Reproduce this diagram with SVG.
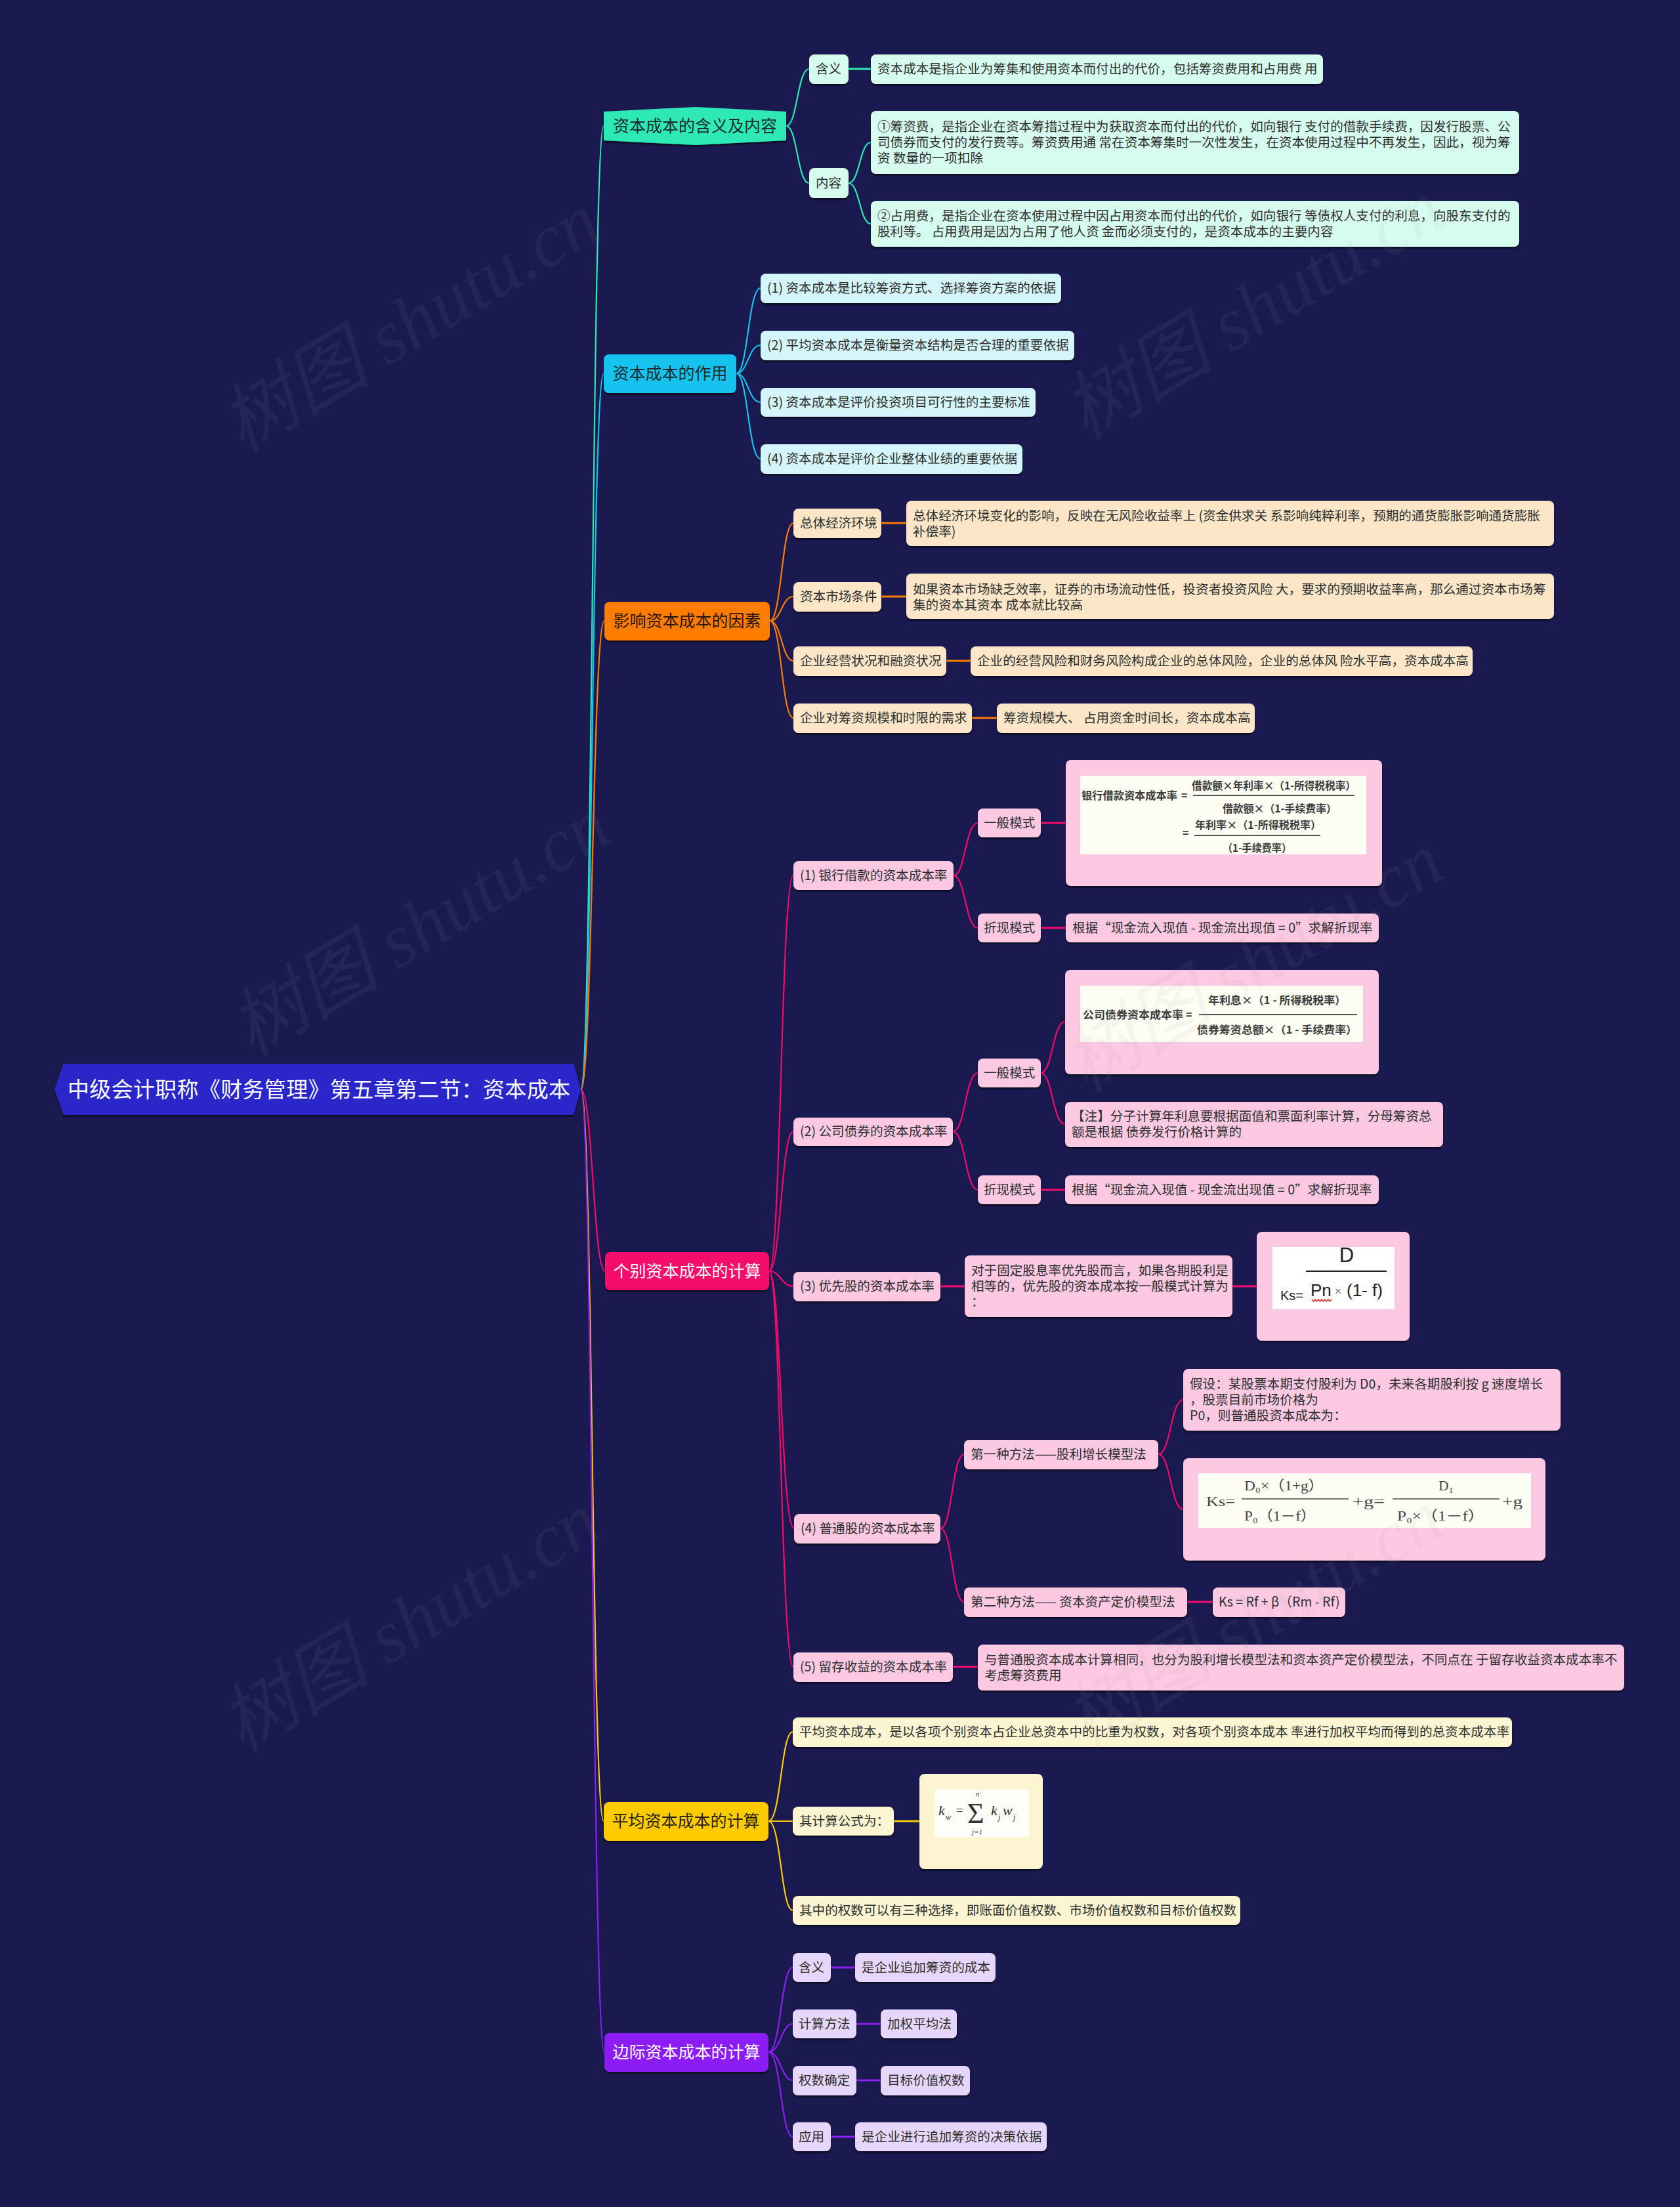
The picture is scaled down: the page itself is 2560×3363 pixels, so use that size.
<svg xmlns="http://www.w3.org/2000/svg" width="2560" height="3363" viewBox="0 0 2560 3363">
<defs>
<filter id="sh" x="-10%" y="-20%" width="120%" height="160%"><feDropShadow dx="0" dy="2.5" stdDeviation="1.2" flood-color="#000" flood-opacity="0.6"/></filter>
<clipPath id="cpD"><rect x="1939" y="1900" width="186" height="95"/></clipPath>
</defs>
<style>
.n{filter:url(#sh)}
.t{font-family:"Noto Sans CJK SC","Noto Sans",sans-serif;font-size:19.6px;fill:#2e2e2e}
.bt{font-family:"Noto Sans CJK SC","Noto Sans",sans-serif;font-size:25px;fill:#1d2b2b}
.wt{fill:#ffffff}
.rt{font-family:"Noto Sans CJK SC","Noto Sans",sans-serif;font-size:33px;fill:#ffffff}
.c1{fill:#d6fcf0}.c2{fill:#d5f5fc}.c3{fill:#fde6c8}.c4{fill:#fcc8e2}.c5{fill:#fdf5d1}.c6{fill:#e7d6fb}
.ln{fill:none;stroke-width:2.2}
.hz{fill:none;stroke-width:3.2}
.s1{stroke:#2ee8b6}.s2{stroke:#17c2ee}.s3{stroke:#fe7b01}.s4{stroke:#f50b6c}.s5{stroke:#fecb05}.s6{stroke:#8c1ff4}
.img{fill:#fdfdf4}
.ft{font-family:"Noto Sans CJK SC","Noto Sans",sans-serif;font-size:16px;font-weight:bold;fill:#3c3c3c}
.fl{stroke:#555;stroke-width:2}
.sf{font-family:"Liberation Serif","DejaVu Serif","Noto Sans CJK SC",serif;font-size:21px;fill:#444}
.wm{font-family:"Liberation Serif","Noto Sans CJK SC",serif;font-style:italic;font-size:115px;fill:#a0a0a0;opacity:0.075}
</style>
<rect x="0" y="0" width="2560" height="3363" fill="#1a1a50"/>

<g id="connectors">
<path class="ln s1" d="M885 1660 C903 1660 902 192 920 192"/>
<path class="ln s2" d="M885 1660 C903 1660 902 569 920 569"/>
<path class="ln s3" d="M885 1660 C903 1660 903 946 921 946"/>
<path class="ln s4" d="M885 1660 C903 1660 904 1937 922 1937"/>
<path class="ln s5" d="M885 1660 C903 1660 902 2775 920 2775"/>
<path class="ln s6" d="M885 1660 C903 1660 903 3127 921 3127"/>

<path class="ln s1" d="M1198 192 C1215 192 1215 105 1233 105"/>
<path class="ln s1" d="M1198 192 C1215 192 1215 279 1233 279"/>
<path class="hz s1" d="M1293 105 L1327 105"/>
<path class="ln s1" d="M1293 279 C1310 279 1310 217 1327 217"/>
<path class="ln s1" d="M1293 279 C1310 279 1310 341 1327 341"/>

<path class="ln s2" d="M1122 569 C1140 569 1140 439 1159 439"/>
<path class="ln s2" d="M1122 569 C1140 569 1140 526 1159 526"/>
<path class="ln s2" d="M1122 569 C1140 569 1140 613 1159 613"/>
<path class="ln s2" d="M1122 569 C1140 569 1140 699 1159 699"/>

<path class="ln s3" d="M1173 946 C1191 946 1191 797 1209 797"/>
<path class="ln s3" d="M1173 946 C1191 946 1191 909 1209 909"/>
<path class="ln s3" d="M1173 946 C1191 946 1191 1007 1209 1007"/>
<path class="ln s3" d="M1173 946 C1191 946 1191 1094 1209 1094"/>
<path class="hz s3" d="M1343 797 L1381 797"/>
<path class="hz s3" d="M1343 909 L1381 909"/>
<path class="hz s3" d="M1442 1007 L1479 1007"/>
<path class="hz s3" d="M1481 1094 L1519 1094"/>

<path class="ln s4" d="M1172 1937 C1190 1937 1190 1334 1209 1334"/>
<path class="ln s4" d="M1172 1937 C1190 1937 1190 1724 1209 1724"/>
<path class="ln s4" d="M1172 1937 C1190 1937 1190 1960 1209 1960"/>
<path class="ln s4" d="M1172 1937 C1190 1937 1190 2329 1210 2329"/>
<path class="ln s4" d="M1172 1937 C1190 1937 1190 2540 1209 2540"/>
<path class="ln s4" d="M1453 1334 C1471 1334 1471 1254 1490 1254"/>
<path class="ln s4" d="M1453 1334 C1471 1334 1471 1414 1490 1414"/>
<path class="hz s4" d="M1586 1254 L1624 1254"/>
<path class="hz s4" d="M1586 1414 L1624 1414"/>
<path class="ln s4" d="M1452 1724 C1471 1724 1471 1635 1490 1635"/>
<path class="ln s4" d="M1452 1724 C1471 1724 1471 1813 1490 1813"/>
<path class="ln s4" d="M1586 1635 C1604 1635 1604 1557 1623 1557"/>
<path class="ln s4" d="M1586 1635 C1604 1635 1604 1713 1623 1713"/>
<path class="hz s4" d="M1586 1813 L1623 1813"/>
<path class="hz s4" d="M1433 1960 L1470 1960"/>
<path class="hz s4" d="M1878 1960 L1915 1960"/>
<path class="ln s4" d="M1433 2329 C1451 2329 1451 2216 1469 2216"/>
<path class="ln s4" d="M1433 2329 C1451 2329 1451 2441 1469 2441"/>
<path class="ln s4" d="M1765 2216 C1784 2216 1784 2133 1803 2133"/>
<path class="ln s4" d="M1765 2216 C1784 2216 1784 2300 1803 2300"/>
<path class="hz s4" d="M1809 2441 L1848 2441"/>
<path class="hz s4" d="M1452 2540 L1490 2540"/>

<path class="ln s5" d="M1171 2775 C1190 2775 1190 2639 1208 2639"/>
<path class="ln s5" d="M1171 2775 L1208 2775"/>
<path class="ln s5" d="M1171 2775 C1190 2775 1190 2911 1208 2911"/>
<path class="hz s5" d="M1362 2775 L1401 2775"/>

<path class="ln s6" d="M1171 3127 C1190 3127 1190 2998 1208 2998"/>
<path class="ln s6" d="M1171 3127 C1190 3127 1190 3084 1208 3084"/>
<path class="ln s6" d="M1171 3127 C1190 3127 1190 3170 1208 3170"/>
<path class="ln s6" d="M1171 3127 C1190 3127 1190 3256 1208 3256"/>
<path class="hz s6" d="M1266 2998 L1303 2998"/>
<path class="hz s6" d="M1305 3084 L1342 3084"/>
<path class="hz s6" d="M1305 3170 L1342 3170"/>
<path class="hz s6" d="M1266 3256 L1303 3256"/>
</g>

<g id="root"><polygon class="n" points="83,1660 97,1621 874,1621 885,1660 874,1699 97,1699" fill="#2b28c9"/><text class="rt" x="103" y="1672" textLength="766" lengthAdjust="spacing">中级会计职称《财务管理》第五章第二节：资本成本</text></g>

<g id="b1"><polygon class="n" points="920,170 1060,163 1198,170 1198,214 1060,221 920,214" fill="#2ee8b6"/><text class="bt" x="1059" y="201" text-anchor="middle">资本成本的含义及内容</text></g>
<g id="b1-hanyi"><rect class="n c1" x="1233" y="83" width="60" height="45" rx="8"/><text class="t" x="1243" y="112">含义</text></g>
<g id="b1-hanyi-leaf"><rect class="n c1" x="1327" y="83" width="689" height="45" rx="8"/><text class="t" x="1337" y="112">资本成本是指企业为筹集和使用资本而付出的代价，包括筹资费用和占用费 用</text></g>
<g id="b1-neirong"><rect class="n c1" x="1233" y="256" width="60" height="46" rx="8"/><text class="t" x="1243" y="286">内容</text></g>
<g id="b1-leaf1"><rect class="n c1" x="1327" y="169" width="988" height="96" rx="8"/><text class="t" x="1337" y="200">①筹资费，是指企业在资本筹措过程中为获取资本而付出的代价，如向银行 支付的借款手续费，因发行股票、公</text><text class="t" x="1337" y="224">司债券而支付的发行费等。筹资费用通 常在资本筹集时一次性发生，在资本使用过程中不再发生，因此，视为筹</text><text class="t" x="1337" y="248">资 数量的一项扣除</text></g>
<g id="b1-leaf2"><rect class="n c1" x="1327" y="306" width="988" height="70" rx="8"/><text class="t" x="1337" y="336">②占用费，是指企业在资本使用过程中因占用资本而付出的代价，如向银行 等债权人支付的利息，向股东支付的</text><text class="t" x="1337" y="360">股利等。 占用费用是因为占用了他人资 金而必须支付的，是资本成本的主要内容</text></g>

<g id="b2"><rect class="n" x="920" y="540" width="202" height="59" rx="8" fill="#17c2ee"/><text class="bt" x="1021" y="578" text-anchor="middle">资本成本的作用</text></g>
<g id="b2-1"><rect class="n c2" x="1159" y="417" width="458" height="45" rx="8"/><text class="t" x="1169" y="446">(1) 资本成本是比较筹资方式、选择筹资方案的依据</text></g>
<g id="b2-2"><rect class="n c2" x="1159" y="504" width="478" height="45" rx="8"/><text class="t" x="1169" y="533">(2) 平均资本成本是衡量资本结构是否合理的重要依据</text></g>
<g id="b2-3"><rect class="n c2" x="1159" y="591" width="419" height="44" rx="8"/><text class="t" x="1169" y="620">(3) 资本成本是评价投资项目可行性的主要标准</text></g>
<g id="b2-4"><rect class="n c2" x="1159" y="677" width="399" height="45" rx="8"/><text class="t" x="1169" y="706">(4) 资本成本是评价企业整体业绩的重要依据</text></g>

<g id="b3"><rect class="n" x="921" y="917" width="252" height="59" rx="8" fill="#fe7b01"/><text class="bt" x="1047" y="955" text-anchor="middle" style="fill:#2a1400">影响资本成本的因素</text></g>
<g id="b3-1"><rect class="n c3" x="1209" y="775" width="134" height="45" rx="8"/><text class="t" x="1219" y="804">总体经济环境</text></g>
<g id="b3-1-leaf"><rect class="n c3" x="1381" y="763" width="987" height="69" rx="8"/><text class="t" x="1391" y="793">总体经济环境变化的影响，反映在无风险收益率上 (资金供求关 系影响纯粹利率，预期的通货膨胀影响通货膨胀</text><text class="t" x="1391" y="817">补偿率)</text></g>
<g id="b3-2"><rect class="n c3" x="1209" y="887" width="134" height="45" rx="8"/><text class="t" x="1219" y="916">资本市场条件</text></g>
<g id="b3-2-leaf"><rect class="n c3" x="1381" y="874" width="987" height="69" rx="8"/><text class="t" x="1391" y="905">如果资本市场缺乏效率，证券的市场流动性低，投资者投资风险 大，要求的预期收益率高，那么通过资本市场筹</text><text class="t" x="1391" y="929">集的资本其资本 成本就比较高</text></g>
<g id="b3-3"><rect class="n c3" x="1209" y="985" width="233" height="45" rx="8"/><text class="t" x="1219" y="1014">企业经营状况和融资状况</text></g>
<g id="b3-3-leaf"><rect class="n c3" x="1479" y="985" width="765" height="45" rx="8"/><text class="t" x="1489" y="1014">企业的经营风险和财务风险构成企业的总体风险，企业的总体风 险水平高，资本成本高</text></g>
<g id="b3-4"><rect class="n c3" x="1209" y="1072" width="272" height="45" rx="8"/><text class="t" x="1219" y="1101">企业对筹资规模和时限的需求</text></g>
<g id="b3-4-leaf"><rect class="n c3" x="1519" y="1072" width="393" height="45" rx="8"/><text class="t" x="1529" y="1101">筹资规模大、 占用资金时间长，资本成本高</text></g>

<g id="b4"><rect class="n" x="922" y="1908" width="250" height="58" rx="8" fill="#f50b6c"/><text class="bt wt" x="1047" y="1946" text-anchor="middle">个别资本成本的计算</text></g>
<g id="b4-1"><rect class="n c4" x="1209" y="1312" width="244" height="44" rx="8"/><text class="t" x="1219" y="1341">(1) 银行借款的资本成本率</text></g>
<g id="b4-1-a"><rect class="n c4" x="1490" y="1232" width="96" height="44" rx="8"/><text class="t" x="1499" y="1261">一般模式</text></g>
<g id="b4-1-a-f"><rect class="n c4" x="1624" y="1158" width="482" height="192" rx="8"/><rect class="img" x="1646" y="1182" width="436" height="120"/>
<text class="ft" x="1648" y="1218" textLength="146" lengthAdjust="spacingAndGlyphs">银行借款资本成本率</text><text class="ft" x="1800" y="1218">=</text>
<text class="ft" x="1816" y="1203" textLength="250" lengthAdjust="spacingAndGlyphs">借款额×年利率×（1-所得税税率）</text>
<line class="fl" x1="1818" y1="1212" x2="2064" y2="1212"/>
<text class="ft" x="1863" y="1238" textLength="174" lengthAdjust="spacingAndGlyphs">借款额×（1-手续费率）</text>
<text class="ft" x="1802" y="1275">=</text>
<text class="ft" x="1821" y="1263" textLength="192" lengthAdjust="spacingAndGlyphs">年利率×（1-所得税税率）</text>
<line class="fl" x1="1820" y1="1273" x2="2012" y2="1273"/>
<text class="ft" x="1863" y="1298" textLength="105" lengthAdjust="spacingAndGlyphs">（1-手续费率）</text></g>
<g id="b4-1-b"><rect class="n c4" x="1490" y="1392" width="96" height="44" rx="8"/><text class="t" x="1499" y="1421">折现模式</text></g>
<g id="b4-1-b-leaf"><rect class="n c4" x="1624" y="1392" width="477" height="44" rx="8"/><text class="t" x="1634" y="1421">根据“现金流入现值 - 现金流出现值 = 0”求解折现率</text></g>

<g id="b4-2"><rect class="n c4" x="1209" y="1703" width="243" height="43" rx="8"/><text class="t" x="1219" y="1731">(2) 公司债券的资本成本率</text></g>
<g id="b4-2-a"><rect class="n c4" x="1490" y="1613" width="96" height="44" rx="8"/><text class="t" x="1499" y="1642">一般模式</text></g>
<g id="b4-2-a-f"><rect class="n c4" x="1623" y="1478" width="478" height="159" rx="8"/><rect class="img" x="1646" y="1502" width="431" height="86"/>
<text class="ft" x="1650" y="1552" textLength="153" lengthAdjust="spacingAndGlyphs">公司债券资本成本率</text><text class="ft" x="1807" y="1552">=</text>
<text class="ft" x="1841" y="1530" textLength="210" lengthAdjust="spacingAndGlyphs">年利息×（1 - 所得税税率）</text>
<line class="fl" x1="1827" y1="1546" x2="2068" y2="1546"/>
<text class="ft" x="1824" y="1575" textLength="244" lengthAdjust="spacingAndGlyphs">债券筹资总额×（1 - 手续费率）</text></g>
<g id="b4-2-a-note"><rect class="n c4" x="1623" y="1679" width="576" height="69" rx="8"/><text class="t" x="1633" y="1708">【注】分子计算年利息要根据面值和票面利率计算，分母筹资总</text><text class="t" x="1633" y="1732">额是根据 债券发行价格计算的</text></g>
<g id="b4-2-b"><rect class="n c4" x="1490" y="1791" width="96" height="44" rx="8"/><text class="t" x="1499" y="1820">折现模式</text></g>
<g id="b4-2-b-leaf"><rect class="n c4" x="1623" y="1791" width="478" height="44" rx="8"/><text class="t" x="1633" y="1820">根据“现金流入现值 - 现金流出现值 = 0”求解折现率</text></g>

<g id="b4-3"><rect class="n c4" x="1209" y="1938" width="224" height="45" rx="8"/><text class="t" x="1219" y="1967">(3) 优先股的资本成本率</text></g>
<g id="b4-3-leaf"><rect class="n c4" x="1470" y="1913" width="408" height="94" rx="8"/><text class="t" x="1480" y="1943">对于固定股息率优先股而言，如果各期股利是</text><text class="t" x="1480" y="1967">相等的，优先股的资本成本按一般模式计算为</text><text class="t" x="1480" y="1991">：</text></g>
<g id="b4-3-f"><rect class="n c4" x="1915" y="1877" width="233" height="166" rx="8"/><rect x="1939" y="1900" width="186" height="95" fill="#ffffff"/>
<text x="2052" y="1923" clip-path="url(#cpD)" text-anchor="middle" style="font-family:'Liberation Sans',sans-serif;font-size:31px;fill:#222">D</text>
<line x1="1990" y1="1937" x2="2113" y2="1937" stroke="#222" stroke-width="2"/>
<text x="1951" y="1981" style="font-family:'Liberation Sans',sans-serif;font-size:20px;fill:#222">Ks=</text>
<text x="1997" y="1975" style="font-family:'Liberation Sans',sans-serif;font-size:26px;fill:#222">Pn</text>
<text x="2034" y="1973" style="font-family:'Liberation Sans',sans-serif;font-size:17px;fill:#777">×</text>
<text x="2052" y="1975" style="font-family:'Liberation Sans',sans-serif;font-size:26px;fill:#222">(1- f)</text>
<path d="M1999 1980 l2.5 3 l2.5 -3 l2.5 3 l2.5 -3 l2.5 3 l2.5 -3 l2.5 3 l2.5 -3 l2.5 3 l2.5 -3 l2.5 3 l2.5 -3" fill="none" stroke="#e02020" stroke-width="1.2"/></g>

<g id="b4-4"><rect class="n c4" x="1210" y="2307" width="223" height="45" rx="8"/><text class="t" x="1220" y="2336">(4) 普通股的资本成本率</text></g>
<g id="b4-4-a"><rect class="n c4" x="1469" y="2194" width="296" height="45" rx="8"/><text class="t" x="1479" y="2223">第一种方法——股利增长模型法</text></g>
<g id="b4-4-a-leaf"><rect class="n c4" x="1803" y="2086" width="575" height="94" rx="8"/><text class="t" x="1813" y="2116">假设：某股票本期支付股利为 D0，未来各期股利按 g 速度增长</text><text class="t" x="1813" y="2140">，股票目前市场价格为</text><text class="t" x="1813" y="2164">P0，则普通股资本成本为：</text></g>
<g id="b4-4-a-f"><rect class="n c4" x="1803" y="2222" width="552" height="156" rx="8"/><rect class="img" x="1826" y="2245" width="507" height="83"/>
<text class="sf" x="1838" y="2295" textLength="44" lengthAdjust="spacingAndGlyphs">Ks=</text>
<text class="sf" x="1896" y="2271" textLength="121" lengthAdjust="spacingAndGlyphs">D₀×（1+g）</text>
<line x1="1892" y1="2284" x2="2055" y2="2284" stroke="#777" stroke-width="1.8"/>
<text class="sf" x="1896" y="2317" textLength="109" lengthAdjust="spacingAndGlyphs">P₀（1－f）</text>
<text class="sf" x="2061" y="2295" textLength="49" lengthAdjust="spacingAndGlyphs">+g=</text>
<text class="sf" x="2192" y="2271" textLength="23" lengthAdjust="spacingAndGlyphs">D₁</text>
<line x1="2122" y1="2284" x2="2285" y2="2284" stroke="#777" stroke-width="1.8"/>
<text class="sf" x="2129" y="2317" textLength="133" lengthAdjust="spacingAndGlyphs">P₀×（1－f）</text>
<text class="sf" x="2289" y="2295" textLength="31" lengthAdjust="spacingAndGlyphs">+g</text></g>
<g id="b4-4-b"><rect class="n c4" x="1469" y="2419" width="340" height="45" rx="8"/><text class="t" x="1479" y="2448">第二种方法—— 资本资产定价模型法</text></g>
<g id="b4-4-b-leaf"><rect class="n c4" x="1848" y="2419" width="202" height="45" rx="8"/><text class="t" x="1857" y="2448">Ks = Rf + β（Rm - Rf)</text></g>

<g id="b4-5"><rect class="n c4" x="1209" y="2518" width="243" height="45" rx="8"/><text class="t" x="1219" y="2547">(5) 留存收益的资本成本率</text></g>
<g id="b4-5-leaf"><rect class="n c4" x="1490" y="2506" width="985" height="70" rx="8"/><text class="t" x="1500" y="2536">与普通股资本成本计算相同，也分为股利增长模型法和资本资产定价模型法，不同点在 于留存收益资本成本率不</text><text class="t" x="1500" y="2560">考虑筹资费用</text></g>

<g id="b5"><rect class="n" x="920" y="2746" width="251" height="59" rx="8" fill="#fecb05"/><text class="bt" x="1045" y="2784" text-anchor="middle" style="fill:#2a2200">平均资本成本的计算</text></g>
<g id="b5-1"><rect class="n c5" x="1208" y="2617" width="1096" height="45" rx="8"/><text class="t" x="1218" y="2646">平均资本成本，是以各项个别资本占企业总资本中的比重为权数，对各项个别资本成本 率进行加权平均而得到的总资本成本率</text></g>
<g id="b5-2"><rect class="n c5" x="1208" y="2753" width="154" height="44" rx="8"/><text class="t" x="1218" y="2782">其计算公式为：</text></g>
<g id="b5-2-f"><rect class="n c5" x="1401" y="2703" width="188" height="145" rx="8"/><rect x="1424" y="2727" width="144" height="72" fill="#fdfdfa"/>
<text x="1430" y="2766" style="font-family:'Liberation Serif',serif;font-style:italic;font-size:22px;fill:#333">k</text>
<text x="1441" y="2773" style="font-family:'Liberation Serif',serif;font-style:italic;font-size:12px;fill:#333">w</text>
<text x="1457" y="2765" style="font-family:'Liberation Serif',serif;font-size:18px;fill:#333">=</text>
<text x="1474" y="2778" style="font-family:'Liberation Serif',serif;font-size:44px;fill:#333">Σ</text>
<text x="1487" y="2737" style="font-family:'Liberation Serif',serif;font-style:italic;font-size:11px;fill:#333">n</text>
<text x="1481" y="2795" style="font-family:'Liberation Serif',serif;font-style:italic;font-size:11px;fill:#333">j=1</text>
<text x="1510" y="2766" style="font-family:'Liberation Serif',serif;font-style:italic;font-size:22px;fill:#333">k</text>
<text x="1521" y="2773" style="font-family:'Liberation Serif',serif;font-style:italic;font-size:12px;fill:#333">j</text>
<text x="1528" y="2766" style="font-family:'Liberation Serif',serif;font-style:italic;font-size:22px;fill:#333">w</text>
<text x="1544" y="2773" style="font-family:'Liberation Serif',serif;font-style:italic;font-size:12px;fill:#333">j</text></g>
<g id="b5-3"><rect class="n c5" x="1208" y="2889" width="682" height="44" rx="8"/><text class="t" x="1218" y="2918">其中的权数可以有三种选择，即账面价值权数、市场价值权数和目标价值权数</text></g>

<g id="b6"><rect class="n" x="921" y="3098" width="250" height="59" rx="8" fill="#8c1ff4"/><text class="bt wt" x="1046" y="3136" text-anchor="middle">边际资本成本的计算</text></g>
<g id="b6-1"><rect class="n c6" x="1208" y="2976" width="58" height="44" rx="8"/><text class="t" x="1217" y="3005">含义</text></g>
<g id="b6-1-leaf"><rect class="n c6" x="1303" y="2976" width="214" height="44" rx="8"/><text class="t" x="1313" y="3005">是企业追加筹资的成本</text></g>
<g id="b6-2"><rect class="n c6" x="1208" y="3062" width="97" height="44" rx="8"/><text class="t" x="1217" y="3091">计算方法</text></g>
<g id="b6-2-leaf"><rect class="n c6" x="1342" y="3062" width="116" height="44" rx="8"/><text class="t" x="1352" y="3091">加权平均法</text></g>
<g id="b6-3"><rect class="n c6" x="1208" y="3148" width="97" height="45" rx="8"/><text class="t" x="1217" y="3177">权数确定</text></g>
<g id="b6-3-leaf"><rect class="n c6" x="1342" y="3148" width="136" height="45" rx="8"/><text class="t" x="1352" y="3177">目标价值权数</text></g>
<g id="b6-4"><rect class="n c6" x="1208" y="3234" width="58" height="44" rx="8"/><text class="t" x="1217" y="3263">应用</text></g>
<g id="b6-4-leaf"><rect class="n c6" x="1303" y="3234" width="292" height="44" rx="8"/><text class="t" x="1313" y="3263">是企业进行追加筹资的决策依据</text></g>

<g id="watermarks">
<text class="wm" transform="translate(645,525) rotate(-31)" text-anchor="middle">树图 shutu.cn</text>
<text class="wm" transform="translate(1930,505) rotate(-31)" text-anchor="middle">树图 shutu.cn</text>
<text class="wm" transform="translate(660,1445) rotate(-31)" text-anchor="middle">树图 shutu.cn</text>
<text class="wm" transform="translate(1930,1500) rotate(-31)" text-anchor="middle">树图 shutu.cn</text>
<text class="wm" transform="translate(645,2505) rotate(-31)" text-anchor="middle">树图 shutu.cn</text>
<text class="wm" transform="translate(1930,2500) rotate(-31)" text-anchor="middle">树图 shutu.cn</text>
</g>
</svg>
